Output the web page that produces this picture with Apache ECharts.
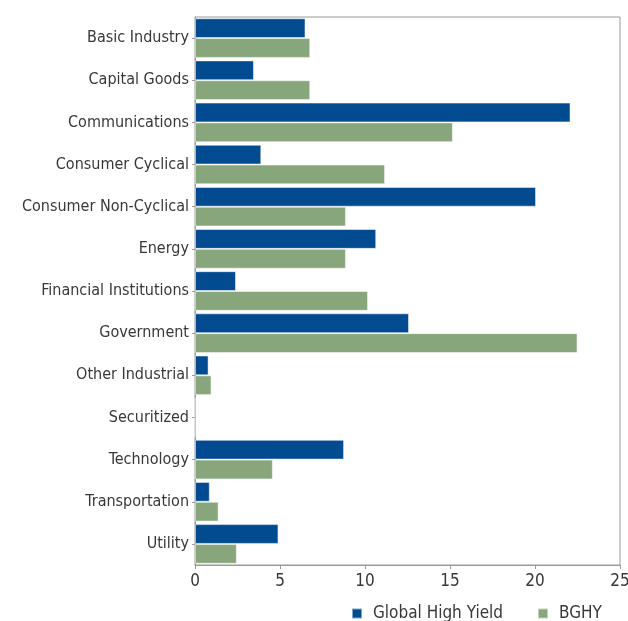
<!DOCTYPE html>
<html>
<head>
<meta charset="utf-8">
<script src="https://cdn.jsdelivr.net/npm/echarts@6/dist/echarts.min.js"></script>
<style>
  html, body { margin: 0; padding: 0; background: #fff; }
  #chart { width: 628px; height: 621px; }
</style>
</head>
<body>
<div id="chart"></div>
<script>
var sectors = ['Basic Industry', 'Capital Goods', 'Communications', 'Consumer Cyclical',
	'Consumer Non-Cyclical', 'Energy', 'Financial Institutions', 'Government',
	'Other Industrial', 'Securitized', 'Technology', 'Transportation', 'Utility'];
var global_high_yield = [6.5, 3.47, 22.09, 3.9, 20.06, 10.66, 2.41, 12.59, 0.8, 0, 8.77, 0.87, 4.91];
var bghy = [6.78, 6.78, 15.17, 11.18, 8.88, 8.88, 10.18, 22.5, 0.97, 0, 4.58, 1.39, 2.46];

var font = '"DejaVu Sans Condensed", "Liberation Sans Narrow", sans-serif';

var chart = echarts.init(document.getElementById('chart'));

option = {
	animation: false,
	textStyle: { fontFamily: font },
	grid: {
		left: 195,
		right: 8,
		top: 17,
		bottom: 56,
		outerBoundsMode: 'none',
		containLabel: false,
		show: true,
		borderColor: '#9a9a9a',
		borderWidth: 1
	},
	legend: {
		data: ['Global High Yield', 'BGHY'],
		left: 346,
		top: 600,
		itemWidth: 10,
		itemHeight: 10,
		itemGap: 34,
		icon: 'rect',
		textStyle: { fontFamily: font, fontSize: 17, color: '#383838', padding: [0, 0, 0, 6] }
	},
	xAxis: {
		type: 'value',
		min: 0,
		max: 25,
		interval: 5,
		splitLine: { show: false },
		axisLine: { show: true, lineStyle: { color: '#9a9a9a' } },
		axisTick: { show: true, length: 4, lineStyle: { color: '#9a9a9a' } },
		axisLabel: { fontFamily: font, fontSize: 17, color: '#383838', margin: 8 }
	},
	yAxis: {
		type: 'category',
		inverse: true,
		data: sectors,
		axisLine: { show: true, lineStyle: { color: '#9a9a9a' } },
		axisTick: { show: true, alignWithLabel: true, length: 3, lineStyle: { color: '#9a9a9a' } },
		axisLabel: { fontFamily: font, fontSize: 16, color: '#383838', margin: 6 }
	},
	series: [
	{
		name: 'Global High Yield',
		type: 'bar',
		data: global_high_yield,
		barGap: '0%',
		barCategoryGap: '6%',
		itemStyle: { color: '#034b91', borderColor: 'rgba(255,255,255,0.5)', borderWidth: 1 }
	},
	{
		name: 'BGHY',
		type: 'bar',
		data: bghy,
		barGap: '0%',
		barCategoryGap: '6%',
		itemStyle: { color: '#87a67c', borderColor: 'rgba(255,255,255,0.5)', borderWidth: 1 }
	}
	]
};

chart.setOption(option);
</script>
</body>
</html>
